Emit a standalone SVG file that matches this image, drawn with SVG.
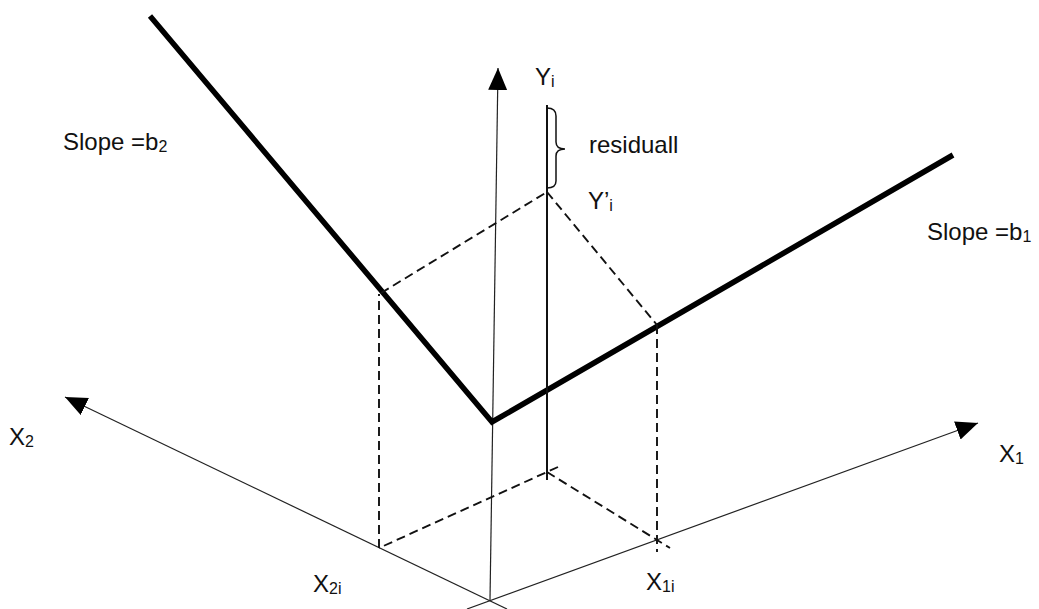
<svg xmlns="http://www.w3.org/2000/svg" width="1039" height="609" viewBox="0 0 1039 609">
<style>
.lbl{font-family:"Liberation Sans",Arial,sans-serif;font-size:24px;fill:#111}
.sub{font-size:16px}
.axis{stroke:#222;stroke-width:1.2;fill:none}
.dash{stroke:#111;stroke-width:1.9;stroke-dasharray:9 5;fill:none}
.thick{stroke:#000;stroke-width:5.5;fill:none;stroke-linejoin:miter}
</style>
<defs>
<marker id="ah" markerUnits="userSpaceOnUse" markerWidth="24" markerHeight="20" refX="22" refY="9.5" orient="auto">
<path d="M0,0 L22,9.5 L0,19 z" fill="#000"/>
</marker>
</defs>
<rect width="1039" height="609" fill="#fff"/>
<g id="connectors">
<line class="axis" x1="490" y1="600" x2="498" y2="68" marker-end="url(#ah)"/>
<line class="axis" x1="507" y1="609" x2="65" y2="397" marker-end="url(#ah)"/>
<line class="axis" x1="467" y1="609" x2="978" y2="423" marker-end="url(#ah)"/>
<polyline class="thick" points="150,16 492,422 953,155"/>
<line class="dash" x1="379" y1="548" x2="379" y2="294"/>
<line class="dash" x1="381" y1="293" x2="547" y2="192"/>
<line class="dash" x1="547" y1="192" x2="657" y2="325"/>
<line class="dash" x1="657" y1="325" x2="657" y2="552"/>
<line class="dash" x1="558" y1="467" x2="379" y2="548"/>
<line class="dash" x1="547" y1="472" x2="670" y2="548"/>
<line x1="547" y1="105" x2="547" y2="480" stroke="#111" stroke-width="2"/>
<path d="M547,108 Q556,108 556,116 L556,142 Q556,149 565,149 Q556,149 556,156 L556,181 Q556,188 547,188" stroke="#111" stroke-width="1.5" fill="none"/>
</g>
<g id="label-slope-b2"><text class="lbl" x="63" y="150">Slope =b<tspan class="sub" dy="2">2</tspan></text></g>
<g id="label-slope-b1"><text class="lbl" x="927" y="240">Slope =b<tspan class="sub" dy="2">1</tspan></text></g>
<g id="label-yi"><text class="lbl" x="535" y="85">Y<tspan class="sub" dy="2">i</tspan></text></g>
<g id="label-residual"><text class="lbl" x="589" y="153">residuall</text></g>
<g id="label-ypi"><text class="lbl" x="588" y="209">Y’<tspan class="sub" dy="2">i</tspan></text></g>
<g id="label-x2"><text class="lbl" x="9" y="445">X<tspan class="sub" dy="2">2</tspan></text></g>
<g id="label-x1"><text class="lbl" x="999" y="462">X<tspan class="sub" dy="2">1</tspan></text></g>
<g id="label-x2i"><text class="lbl" x="313" y="592">X<tspan class="sub" dy="2">2i</tspan></text></g>
<g id="label-x1i"><text class="lbl" x="646" y="590">X<tspan class="sub" dy="2">1i</tspan></text></g>
</svg>
